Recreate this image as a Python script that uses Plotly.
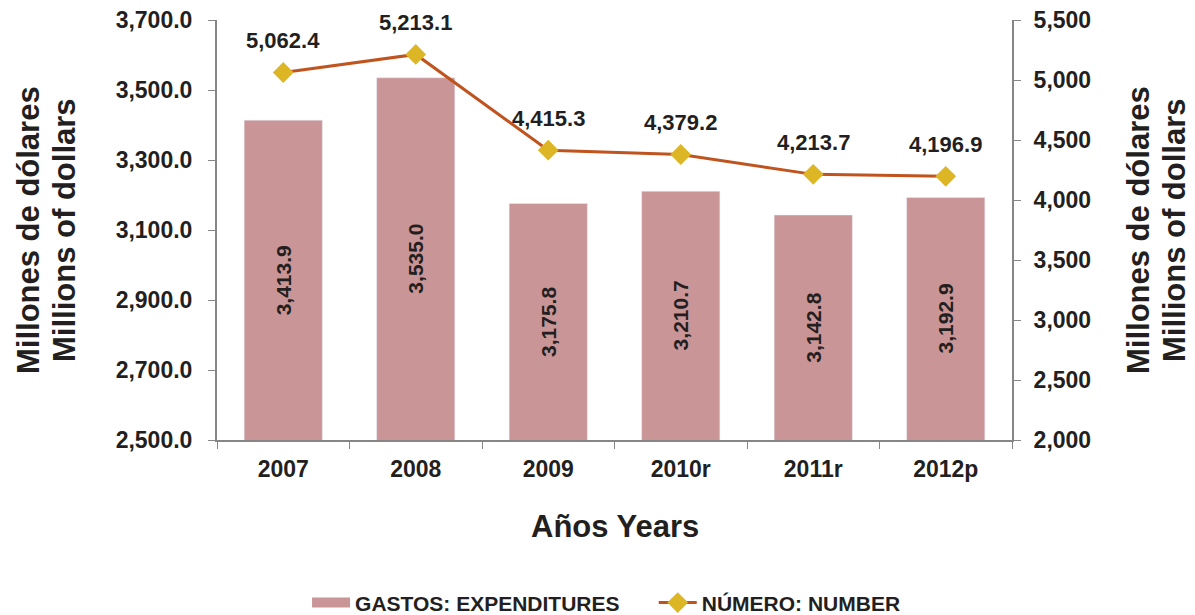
import plotly.graph_objects as go

# Data
years = ['2007', '2008', '2009', '2010r', '2011r', '2012p']
gastos = [3413.9, 3535.0, 3175.8, 3210.7, 3142.8, 3192.9]  # expenditures, left axis
numero = [5062.4, 5213.1, 4415.3, 4379.2, 4213.7, 4196.9]  # number, right axis
Y1_MIN, Y1_MAX = 2500, 3700
Y2_MIN, Y2_MAX = 2000, 5500

BAR_COLOUR = '#C99597'
LINE_COLOUR = '#C0541F'
MARKER_COLOUR = '#DDB626'
AXIS_COLOUR = '#868686'
TEXT_COLOUR = '#231F20'
FONT = 'Liberation Sans, Arial, sans-serif'

fig = go.Figure()

fig.add_trace(go.Bar(
    x=years, y=gastos, showlegend=False,
    marker_color=BAR_COLOUR, width=0.59,
))

# dummy trace so the legend shows a wide block for the bars
fig.add_trace(go.Scatter(
    x=[None], y=[None], mode='lines',
    name='<b>GASTOS: EXPENDITURES</b>' + '&nbsp;' * 5,  # extra room before the next item
    line=dict(color=BAR_COLOUR, width=15), hoverinfo='skip',
))

fig.add_trace(go.Scatter(
    x=years, y=numero, yaxis='y2', name='<b>NÚMERO: NUMBER</b>',
    mode='lines+markers',
    line=dict(color=LINE_COLOUR, width=3),
    marker=dict(symbol='diamond', size=16, color=MARKER_COLOUR),
))

# bar labels: vertical, centred in the visible part of each bar
# (category index as x, so '2007' isn't read as a number)
for i, v in enumerate(gastos):
    fig.add_annotation(x=i, y=(v + Y1_MIN) / 2, text=f'<b>{v:,.1f}</b>',
                       showarrow=False, textangle=-90,
                       font=dict(size=21, color=TEXT_COLOUR, family=FONT))

# value labels above the line points
for i, v in enumerate(numero):
    fig.add_annotation(x=i, y=v, yref='y2', text=f'<b>{v:,.1f}</b>',
                       showarrow=False, yshift=32,
                       font=dict(size=22, color=TEXT_COLOUR, family=FONT))

# axis titles (two lines each, set as separate lines for tight spacing)
title_font = dict(size=31, color=TEXT_COLOUR, family=FONT)
for xs, txt in [(-0.2377, 'Millones de dólares'), (-0.1925, 'Millions of dollars'),
                (1.1585, 'Millones de dólares'), (1.2038, 'Millions of dollars')]:
    fig.add_annotation(xref='paper', yref='paper', x=xs, y=0.5, text=f'<b>{txt}</b>',
                       showarrow=False, textangle=-90, xanchor='center', yanchor='middle',
                       font=title_font)
fig.add_annotation(xref='paper', yref='paper', x=0.5, y=-0.207, text='<b>Años Years</b>',
                   showarrow=False, xanchor='center', yanchor='middle', font=title_font)

tick_font = dict(size=23, color=TEXT_COLOUR, family=FONT)

fig.update_layout(
    width=1195, height=615,
    margin=dict(l=217, r=183, t=20, b=175, autoexpand=False),
    plot_bgcolor='white', paper_bgcolor='white',
    font=dict(family=FONT, color=TEXT_COLOUR),
    showlegend=True,
    legend=dict(orientation='h', x=0.49, xanchor='center', y=-0.388, yanchor='middle',
                font=dict(size=21, color=TEXT_COLOUR, family=FONT),
                traceorder='normal', itemwidth=38),
    xaxis=dict(
        type='category', range=[-0.5, len(years) - 0.5],
        tickfont=tick_font, tickprefix='<b>', ticksuffix='</b>',
        showline=True, linecolor=AXIS_COLOUR, linewidth=2,
        ticks='outside', tickson='boundaries', ticklen=7, tickcolor=AXIS_COLOUR,
        ticklabelstandoff=7, showgrid=False,
    ),
    yaxis=dict(
        range=[Y1_MIN, Y1_MAX], tick0=Y1_MIN, dtick=200, tickformat=',.1f',
        tickfont=tick_font, tickprefix='<b>', ticksuffix='</b>',
        showline=True, linecolor=AXIS_COLOUR, linewidth=2,
        ticks='outside', ticklen=7, tickcolor=AXIS_COLOUR,
        ticklabelstandoff=11, showgrid=False, zeroline=False,
    ),
    yaxis2=dict(
        overlaying='y', side='right',
        range=[Y2_MIN, Y2_MAX], tick0=Y2_MIN, dtick=500, tickformat=',d',
        tickfont=tick_font, tickprefix='<b>', ticksuffix='</b>',
        showline=True, linecolor=AXIS_COLOUR, linewidth=2,
        ticks='outside', ticklen=7, tickcolor=AXIS_COLOUR,
        ticklabelstandoff=8, showgrid=False, zeroline=False,
    ),
)

# drop the default page margin so the figure fills the window exactly
fig.write_html('out.html', config={'displayModeBar': False},
               post_script="document.body.style.margin='0';document.body.style.overflow='hidden';")
